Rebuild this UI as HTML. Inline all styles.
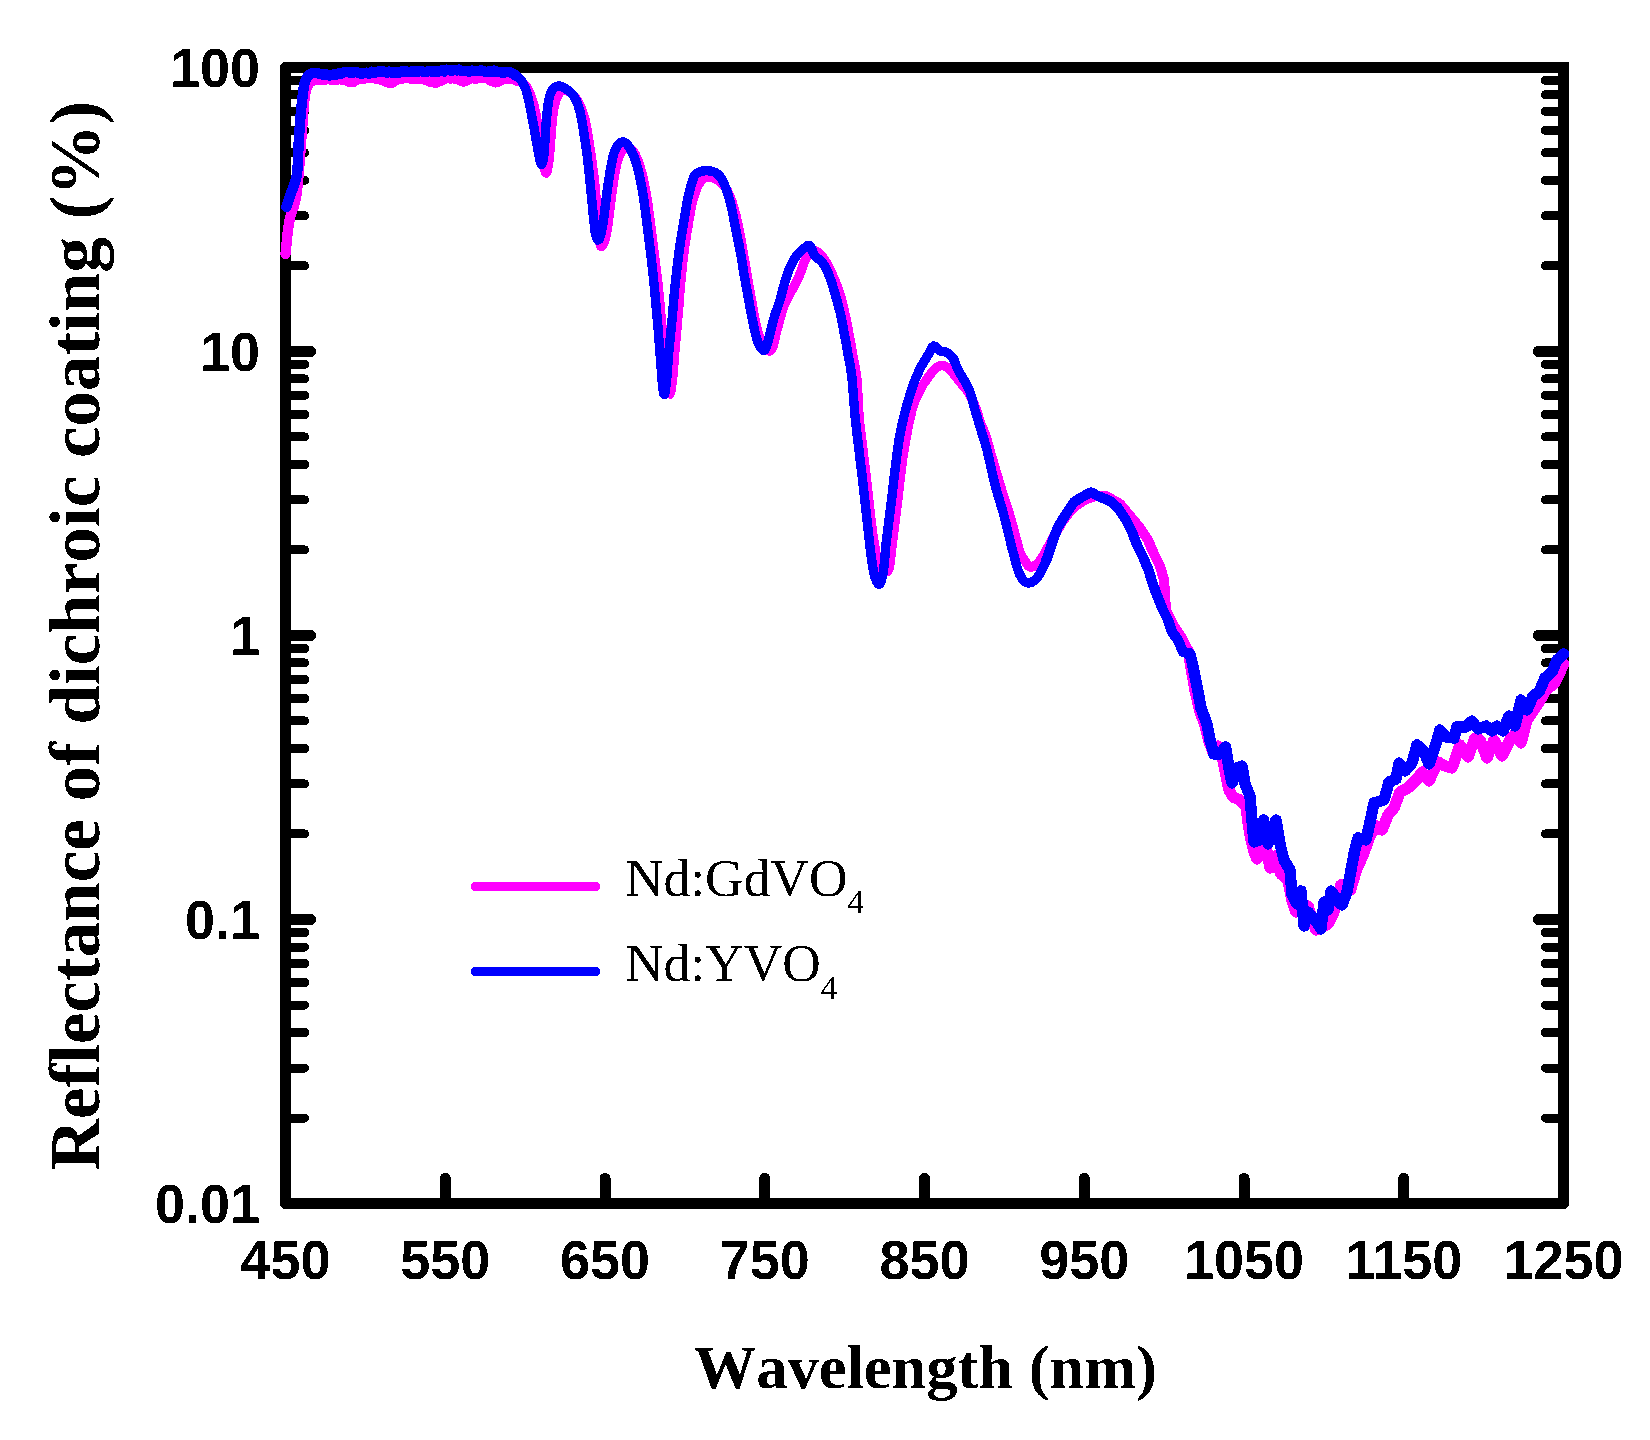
<!DOCTYPE html>
<html lang="en">
<head>
<meta charset="utf-8">
<title>Reflectance of dichroic coating</title>
<style>
html,body{margin:0;padding:0;background:#fff;}
body{width:1650px;height:1440px;overflow:hidden;}
svg{display:block;}
.tl{font-family:"Liberation Sans",sans-serif;font-weight:bold;font-size:54px;fill:#000;}
.at{font-family:"Liberation Serif",serif;font-weight:bold;fill:#000;font-kerning:none;font-variant-ligatures:none;}
.lg{font-family:"Liberation Serif",serif;font-weight:normal;fill:#000;font-kerning:none;}
</style>
</head>
<body>
<svg width="1650" height="1440" viewBox="0 0 1650 1440">
<rect x="0" y="0" width="1650" height="1440" fill="#ffffff"/>
<defs>
<filter id="crisp" x="-5%" y="-5%" width="110%" height="110%" color-interpolation-filters="sRGB">
<feComponentTransfer><feFuncA type="discrete" tableValues="0 1"/></feComponentTransfer>
</filter>
</defs>
<g id="ticks" stroke="#000" stroke-linecap="round" fill="none" shape-rendering="crispEdges">
<line x1="285.5" y1="265.8" x2="304.7" y2="265.8" stroke-width="9"/>
<line x1="1563.5" y1="265.8" x2="1545.3" y2="265.8" stroke-width="9"/>
<line x1="285.5" y1="215.8" x2="304.7" y2="215.8" stroke-width="9"/>
<line x1="1563.5" y1="215.8" x2="1545.3" y2="215.8" stroke-width="9"/>
<line x1="285.5" y1="180.3" x2="304.7" y2="180.3" stroke-width="9"/>
<line x1="1563.5" y1="180.3" x2="1545.3" y2="180.3" stroke-width="9"/>
<line x1="285.5" y1="152.8" x2="304.7" y2="152.8" stroke-width="9"/>
<line x1="1563.5" y1="152.8" x2="1545.3" y2="152.8" stroke-width="9"/>
<line x1="285.5" y1="130.3" x2="304.7" y2="130.3" stroke-width="9"/>
<line x1="1563.5" y1="130.3" x2="1545.3" y2="130.3" stroke-width="9"/>
<line x1="285.5" y1="111.3" x2="304.7" y2="111.3" stroke-width="9"/>
<line x1="1563.5" y1="111.3" x2="1545.3" y2="111.3" stroke-width="9"/>
<line x1="285.5" y1="94.8" x2="304.7" y2="94.8" stroke-width="9"/>
<line x1="1563.5" y1="94.8" x2="1545.3" y2="94.8" stroke-width="9"/>
<line x1="285.5" y1="80.3" x2="304.7" y2="80.3" stroke-width="9"/>
<line x1="1563.5" y1="80.3" x2="1545.3" y2="80.3" stroke-width="9"/>
<line x1="285.5" y1="351.4" x2="310.6" y2="351.4" stroke-width="11"/>
<line x1="1563.5" y1="351.4" x2="1538.4" y2="351.4" stroke-width="11"/>
<line x1="285.5" y1="549.9" x2="304.7" y2="549.9" stroke-width="9"/>
<line x1="1563.5" y1="549.9" x2="1545.3" y2="549.9" stroke-width="9"/>
<line x1="285.5" y1="499.9" x2="304.7" y2="499.9" stroke-width="9"/>
<line x1="1563.5" y1="499.9" x2="1545.3" y2="499.9" stroke-width="9"/>
<line x1="285.5" y1="464.4" x2="304.7" y2="464.4" stroke-width="9"/>
<line x1="1563.5" y1="464.4" x2="1545.3" y2="464.4" stroke-width="9"/>
<line x1="285.5" y1="436.9" x2="304.7" y2="436.9" stroke-width="9"/>
<line x1="1563.5" y1="436.9" x2="1545.3" y2="436.9" stroke-width="9"/>
<line x1="285.5" y1="414.4" x2="304.7" y2="414.4" stroke-width="9"/>
<line x1="1563.5" y1="414.4" x2="1545.3" y2="414.4" stroke-width="9"/>
<line x1="285.5" y1="395.3" x2="304.7" y2="395.3" stroke-width="9"/>
<line x1="1563.5" y1="395.3" x2="1545.3" y2="395.3" stroke-width="9"/>
<line x1="285.5" y1="378.9" x2="304.7" y2="378.9" stroke-width="9"/>
<line x1="1563.5" y1="378.9" x2="1545.3" y2="378.9" stroke-width="9"/>
<line x1="285.5" y1="364.3" x2="304.7" y2="364.3" stroke-width="9"/>
<line x1="1563.5" y1="364.3" x2="1545.3" y2="364.3" stroke-width="9"/>
<line x1="285.5" y1="635.4" x2="310.6" y2="635.4" stroke-width="11"/>
<line x1="1563.5" y1="635.4" x2="1538.4" y2="635.4" stroke-width="11"/>
<line x1="285.5" y1="833.9" x2="304.7" y2="833.9" stroke-width="9"/>
<line x1="1563.5" y1="833.9" x2="1545.3" y2="833.9" stroke-width="9"/>
<line x1="285.5" y1="783.9" x2="304.7" y2="783.9" stroke-width="9"/>
<line x1="1563.5" y1="783.9" x2="1545.3" y2="783.9" stroke-width="9"/>
<line x1="285.5" y1="748.4" x2="304.7" y2="748.4" stroke-width="9"/>
<line x1="1563.5" y1="748.4" x2="1545.3" y2="748.4" stroke-width="9"/>
<line x1="285.5" y1="720.9" x2="304.7" y2="720.9" stroke-width="9"/>
<line x1="1563.5" y1="720.9" x2="1545.3" y2="720.9" stroke-width="9"/>
<line x1="285.5" y1="698.4" x2="304.7" y2="698.4" stroke-width="9"/>
<line x1="1563.5" y1="698.4" x2="1545.3" y2="698.4" stroke-width="9"/>
<line x1="285.5" y1="679.4" x2="304.7" y2="679.4" stroke-width="9"/>
<line x1="1563.5" y1="679.4" x2="1545.3" y2="679.4" stroke-width="9"/>
<line x1="285.5" y1="662.9" x2="304.7" y2="662.9" stroke-width="9"/>
<line x1="1563.5" y1="662.9" x2="1545.3" y2="662.9" stroke-width="9"/>
<line x1="285.5" y1="648.4" x2="304.7" y2="648.4" stroke-width="9"/>
<line x1="1563.5" y1="648.4" x2="1545.3" y2="648.4" stroke-width="9"/>
<line x1="285.5" y1="919.5" x2="310.6" y2="919.5" stroke-width="11"/>
<line x1="1563.5" y1="919.5" x2="1538.4" y2="919.5" stroke-width="11"/>
<line x1="285.5" y1="1118.0" x2="304.7" y2="1118.0" stroke-width="9"/>
<line x1="1563.5" y1="1118.0" x2="1545.3" y2="1118.0" stroke-width="9"/>
<line x1="285.5" y1="1068.0" x2="304.7" y2="1068.0" stroke-width="9"/>
<line x1="1563.5" y1="1068.0" x2="1545.3" y2="1068.0" stroke-width="9"/>
<line x1="285.5" y1="1032.5" x2="304.7" y2="1032.5" stroke-width="9"/>
<line x1="1563.5" y1="1032.5" x2="1545.3" y2="1032.5" stroke-width="9"/>
<line x1="285.5" y1="1005.0" x2="304.7" y2="1005.0" stroke-width="9"/>
<line x1="1563.5" y1="1005.0" x2="1545.3" y2="1005.0" stroke-width="9"/>
<line x1="285.5" y1="982.5" x2="304.7" y2="982.5" stroke-width="9"/>
<line x1="1563.5" y1="982.5" x2="1545.3" y2="982.5" stroke-width="9"/>
<line x1="285.5" y1="963.4" x2="304.7" y2="963.4" stroke-width="9"/>
<line x1="1563.5" y1="963.4" x2="1545.3" y2="963.4" stroke-width="9"/>
<line x1="285.5" y1="947.0" x2="304.7" y2="947.0" stroke-width="9"/>
<line x1="1563.5" y1="947.0" x2="1545.3" y2="947.0" stroke-width="9"/>
<line x1="285.5" y1="932.4" x2="304.7" y2="932.4" stroke-width="9"/>
<line x1="1563.5" y1="932.4" x2="1545.3" y2="932.4" stroke-width="9"/>
<line x1="445.2" y1="1203.5" x2="445.2" y2="1178.4" stroke-width="11"/>
<line x1="605.0" y1="1203.5" x2="605.0" y2="1178.4" stroke-width="11"/>
<line x1="764.8" y1="1203.5" x2="764.8" y2="1178.4" stroke-width="11"/>
<line x1="924.5" y1="1203.5" x2="924.5" y2="1178.4" stroke-width="11"/>
<line x1="1084.2" y1="1203.5" x2="1084.2" y2="1178.4" stroke-width="11"/>
<line x1="1244.0" y1="1203.5" x2="1244.0" y2="1178.4" stroke-width="11"/>
<line x1="1403.8" y1="1203.5" x2="1403.8" y2="1178.4" stroke-width="11"/>
</g>
<path id="frame" d="M1563.5 67.3 L285.5 67.3 L285.5 1203.5 L1563.5 1203.5 L1563.5 67.3" fill="none" stroke="#000" stroke-width="11" stroke-linejoin="round" stroke-linecap="square" shape-rendering="crispEdges"/>
<g id="curves" fill="none" stroke-width="10" stroke-linejoin="round" stroke-linecap="round" shape-rendering="crispEdges">
<path d="M285.6 254.0 L286.2 247.4 L287.1 238.1 L288.0 230.0 L288.8 224.5 L289.6 220.1 L290.5 216.0 L291.8 211.9 L293.2 208.1 L294.5 204.0 L295.5 199.7 L296.3 195.2 L297.0 190.0 L297.7 183.8 L298.4 176.9 L299.0 170.0 L299.5 163.3 L300.0 156.7 L300.5 150.0 L301.0 143.7 L301.4 137.4 L302.0 130.0 L302.7 120.1 L303.5 109.2 L304.4 100.0 L305.3 93.8 L306.3 89.4 L307.5 86.0 L308.8 83.5 L310.3 82.0 L312.0 81.0 L313.8 80.4 L315.8 80.2 L318.0 80.0 L320.5 79.5 L323.0 79.3 L325.5 79.6 L328.0 79.1 L330.5 79.6 L333.0 80.0 L335.5 79.4 L338.0 79.4 L340.5 79.2 L343.0 79.8 L345.5 79.8 L348.0 81.4 L350.5 81.8 L353.0 82.3 L355.5 80.5 L358.0 78.4 L360.5 79.2 L363.0 78.9 L365.5 78.3 L368.0 78.2 L370.5 77.6 L373.0 77.6 L375.5 78.6 L378.0 78.4 L380.5 79.5 L383.0 80.5 L385.5 81.2 L388.0 82.5 L390.5 82.8 L393.0 82.5 L395.5 80.3 L398.0 79.2 L400.5 78.6 L403.0 78.5 L405.5 78.0 L408.0 77.7 L410.5 78.7 L413.0 78.8 L415.5 78.7 L418.0 78.7 L420.5 78.5 L423.0 78.9 L425.5 79.7 L428.0 80.2 L430.5 82.0 L433.0 82.0 L435.5 82.9 L438.0 81.6 L440.5 81.1 L443.0 79.9 L445.5 78.0 L448.0 77.9 L450.5 78.6 L453.0 77.9 L455.5 78.9 L458.0 79.3 L460.5 80.4 L463.0 81.5 L465.5 81.1 L468.0 79.4 L470.5 78.3 L473.0 78.1 L475.5 78.7 L478.0 78.2 L480.5 77.2 L483.0 77.5 L485.5 77.6 L488.0 78.5 L490.5 80.7 L493.0 81.1 L495.5 82.4 L498.0 81.9 L500.5 79.9 L503.0 79.3 L505.5 78.2 L508.0 78.8 L510.5 78.3 L514.8 79.7 L517.5 80.8" stroke="#ff00ff" stroke-width="10.4"/>
<path d="M514.8 79.7 L517.5 80.8 L520.0 82.0 L522.2 83.0 L524.1 84.2 L526.0 86.0 L527.8 88.7 L529.4 92.1 L531.0 96.0 L532.4 100.3 L533.8 105.0 L535.0 110.0 L536.1 115.0 L537.0 120.3 L538.0 126.0 L539.0 132.4 L540.0 139.2 L541.0 146.0 L542.0 153.1 L543.0 160.3 L544.0 166.0 L544.8 170.0 L545.6 172.6 L546.4 173.0 L547.3 170.6 L548.2 165.9 L549.0 160.0 L549.7 152.7 L550.4 144.3 L551.0 136.0 L551.6 128.2 L552.3 120.7 L553.0 114.0 L553.9 108.5 L554.9 103.9 L556.0 100.0 L557.2 96.7 L558.6 94.0 L560.0 92.0 L561.6 90.7 L563.2 90.1 L565.0 90.0 L566.9 90.5 L569.0 91.5 L571.0 93.0 L573.0 94.9 L575.1 97.3 L577.0 100.0 L578.8 103.0 L580.4 106.3 L582.0 110.0 L583.4 114.2 L584.8 118.9 L586.0 124.0 L587.1 129.6 L588.0 135.7 L589.0 142.0 L590.0 148.4 L591.0 155.0 L592.0 162.0 L593.0 169.7 L594.1 177.9 L595.0 186.0 L595.7 194.0 L596.4 202.0 L597.0 210.0 L597.7 218.4 L598.3 226.8 L599.0 234.0 L599.6 239.8 L600.2 244.2 L601.0 246.6 L602.2 246.2 L603.7 243.6 L605.0 240.0 L606.1 235.7 L607.0 230.3 L608.0 224.0 L609.0 216.7 L609.9 208.6 L611.0 200.0 L612.2 190.6 L613.6 180.7 L615.0 172.0 L616.5 164.9 L618.1 158.8 L620.0 154.0 L622.1 150.3 L624.5 147.9 L627.0 147.0 L629.7 148.0 L632.4 150.5 L635.0 154.0 L637.2 158.4 L639.1 163.9 L641.0 170.0 L642.8 176.7 L644.4 184.0 L646.0 192.0 L647.4 200.7 L648.7 210.1 L650.0 220.0 L651.3 230.4 L652.7 241.2 L654.0 252.0 L655.4 262.7 L656.7 273.3 L658.0 284.0 L659.1 294.8 L660.1 305.6 L661.0 316.0 L661.9 325.7 L662.8 335.0 L663.6 344.0 L664.4 353.1 L665.2 362.0 L666.0 370.0 L666.7 377.0 L667.3 383.2 L668.0 388.0 L668.6 391.6 L669.3 393.9 L670.0 394.0 L670.8 391.4 L671.6 386.6 L672.5 380.0 L673.3 371.3 L674.1 360.9 L675.0 350.0 L676.0 338.9 L677.0 327.3 L678.0 316.0 L678.9 305.2 L679.7 294.6 L680.6 284.0 L681.7 273.1 L682.8 262.2 L684.0 252.0 L685.3 242.7 L686.6 234.1 L688.0 226.0 L689.3 218.1 L690.6 210.7 L692.0 204.0 L693.6 197.9 L695.3 192.5 L697.0 188.0 L698.6 184.6 L700.2 182.0 L702.0 180.0 L704.1 178.4 L706.4 177.3 L709.0 177.0 L712.2 177.6 L715.7 179.0 L719.0 181.0 L721.9 183.3 L724.5 186.1 L727.0 190.0 L729.5 195.1 L731.8 201.2 L734.0 208.0 L736.0 215.6 L737.8 223.9 L739.5 232.0 L740.9 239.4 L742.2 246.6 L743.5 254.0 L744.8 261.9 L746.2 270.1 L747.5 278.0 L748.8 285.5 L750.2 292.7 L751.5 300.0 L752.8 307.5 L754.1 315.0 L755.5 322.0 L757.1 328.6 L758.8 334.8 L760.5 340.0 L762.3 344.2 L764.1 347.4 L766.0 349.5 L768.0 350.8 L770.1 350.9 L772.0 349.0 L773.7 344.2 L775.2 337.4 L777.0 330.0 L779.1 322.1 L781.5 313.6 L784.0 306.0 L786.6 300.1 L789.3 295.0 L792.0 290.0 L794.7 284.7 L797.5 279.3 L800.0 274.0 L802.1 268.3 L804.1 262.6 L806.0 258.0 L808.0 255.0 L810.0 253.2 L812.0 252.0 L813.9 251.2 L815.9 251.0 L818.0 252.0 L820.6 254.4 L823.3 258.0 L826.0 262.0 L828.4 266.2 L830.7 270.9 L833.0 276.0 L835.4 281.6 L837.8 287.7 L840.0 294.0 L841.9 300.5 L843.5 307.3 L845.0 314.0 L846.4 320.6 L847.7 327.2 L849.0 334.0 L850.3 341.1 L851.7 348.4 L853.0 356.0 L854.4 363.4 L855.8 371.0 L857.0 380.0 L857.7 391.2 L858.3 403.7 L859.0 416.0 L860.2 427.5 L861.6 438.7 L863.0 450.0 L864.3 461.3 L865.7 472.5 L867.0 484.0 L868.3 496.1 L869.7 508.5 L871.0 520.0 L872.3 530.4 L873.7 539.9 L875.0 548.0 L876.3 554.6 L877.6 559.8 L879.0 564.0 L880.6 567.3 L882.3 569.7 L884.0 571.0 L885.7 571.8 L887.5 571.6 L889.0 569.0 L890.1 562.9 L891.1 554.5 L892.0 546.0 L893.0 538.1 L894.0 530.0 L895.0 522.0 L896.0 514.1 L897.0 506.1 L898.0 498.0 L899.0 489.6 L899.9 480.9 L901.0 472.0 L902.1 463.0 L903.4 453.9 L905.0 444.0 L907.1 432.6 L909.5 420.5 L912.0 410.0 L914.6 402.0 L917.4 395.5 L920.0 390.0 L922.4 385.6 L924.8 382.1 L927.0 379.0 L929.1 376.0 L931.1 373.3 L933.0 371.0 L934.8 369.1 L936.4 367.6 L938.0 366.5 L939.4 365.8 L940.7 365.6 L942.0 365.5 L943.3 365.5 L944.5 365.8 L946.0 366.5 L947.8 367.8 L949.8 369.7 L952.0 372.0 L954.5 375.0 L957.3 378.5 L960.0 382.0 L962.7 385.2 L965.4 388.4 L968.0 392.0 L970.4 396.2 L972.8 400.9 L975.0 406.0 L977.1 411.9 L979.1 418.3 L981.0 424.0 L982.7 428.2 L984.4 431.8 L986.0 436.0 L987.6 441.4 L989.2 447.5 L991.0 454.0 L993.1 461.1 L995.3 468.7 L997.5 476.0 L999.5 482.8 L1001.5 489.4 L1003.5 496.0 L1005.7 502.7 L1007.9 509.3 L1010.0 516.0 L1011.9 522.8 L1013.8 529.6 L1015.5 536.0 L1017.1 541.9 L1018.5 547.3 L1020.0 552.0 L1021.6 555.6 L1023.3 558.5 L1025.0 561.0 L1026.6 563.6 L1028.2 565.8 L1030.0 567.0 L1032.2 566.9 L1034.7 565.7 L1037.0 564.0 L1039.1 561.8 L1041.0 559.0 L1043.0 556.0 L1045.2 552.4 L1047.4 548.7 L1049.0 546.0" stroke="#ff00ff" stroke-width="9.4"/>
<path d="M1047.4 548.7 L1049.0 546.0 L1055.0 534.0 L1062.0 522.0 L1070.0 511.0 L1078.0 504.0 L1086.0 499.0 L1096.0 496.0 L1106.0 496.0 L1120.0 504.0 L1130.0 516.0 L1140.0 528.0 L1148.0 540.0 L1154.0 554.0 L1160.0 566.0 L1164.0 580.0 L1165.0 596.0 L1166.0 610.0 L1174.0 626.0 L1182.0 638.0 L1188.0 650.0 L1191.5 670.0" stroke="#ff00ff" stroke-width="10.2"/>
<path d="M1188.0 650.0 L1191.5 670.0 L1195.0 690.0 L1199.5 710.0 L1204.5 724.0 L1208.5 740.0 L1213.0 752.0 L1218.0 746.0 L1223.0 760.0 L1229.0 790.0 L1233.0 797.0 L1240.0 800.0 L1246.0 806.0 L1248.0 822.0 L1251.0 840.0 L1254.0 852.0 L1257.0 859.0 L1263.0 850.0 L1265.0 840.0 L1270.0 868.0 L1275.0 856.0 L1281.0 874.0 L1288.0 880.0 L1292.0 900.0 L1296.0 912.0 L1308.0 906.0 L1316.0 930.0 L1328.0 924.0 L1334.0 912.0 L1341.0 885.0 L1350.5 890.0 L1356.5 870.0 L1363.5 854.0 L1370.0 836.0 L1376.0 826.0 L1382.0 830.0 L1388.0 815.0 L1394.0 808.0 L1400.0 792.0 L1408.0 788.0 L1418.0 778.0 L1422.0 772.0 L1429.0 781.0 L1438.0 762.0 L1445.0 766.0 L1452.0 768.0 L1460.0 745.0 L1468.0 757.0 L1475.0 738.0 L1480.0 740.0 L1487.0 758.0 L1494.0 740.0 L1502.0 756.0 L1510.0 740.0 L1515.0 734.0 L1521.0 743.0 L1527.0 720.0 L1538.0 704.0 L1546.0 690.0 L1554.0 684.0 L1560.0 672.0 L1563.6 664.0" stroke="#ff00ff" stroke-width="11.4"/>
<path d="M286.4 207.0 L287.3 204.1 L288.7 200.0 L290.0 196.0 L291.2 192.7 L292.4 189.4 L293.6 186.0 L294.8 182.3 L296.1 178.4 L297.0 174.0 L297.5 169.1 L297.8 163.8 L298.0 158.0 L298.3 151.6 L298.6 144.8 L299.0 138.0 L299.4 131.3 L299.9 124.7 L300.4 118.0 L301.0 111.1 L301.7 104.2 L302.4 98.0 L303.0 92.7 L303.6 88.0 L304.4 84.0 L305.4 80.7 L306.6 78.1 L308.0 76.0 L309.6 74.5 L311.4 73.5 L313.5 73.0 L316.1 73.0 L319.1 73.7 L321.6 73.7 L324.1 75.1 L326.6 74.4 L329.1 75.5 L331.6 75.1 L334.1 74.1 L336.6 74.6 L339.1 73.2 L341.6 73.6 L344.1 72.4 L346.6 72.0 L349.1 72.4 L351.6 73.2 L354.1 71.8 L356.6 72.1 L359.1 73.1 L361.6 73.8 L364.1 73.1 L366.6 72.7 L369.1 73.7 L371.6 71.7 L374.1 73.0 L376.6 71.8 L379.1 71.3 L381.6 71.3 L384.1 71.7 L386.6 72.7 L389.1 71.6 L391.6 72.5 L394.1 72.7 L396.6 72.2 L399.1 72.6 L401.6 71.5 L404.1 71.4 L406.6 71.5 L409.1 72.3 L411.6 71.6 L414.1 71.2 L416.6 71.7 L419.1 71.4 L421.6 71.1 L424.1 72.1 L426.6 71.9 L429.1 71.0 L431.6 71.6 L434.1 71.3 L436.6 71.8 L439.1 71.3 L441.6 70.3 L444.1 71.5 L446.6 69.7 L449.1 70.3 L451.6 70.9 L454.1 69.7 L456.6 70.4 L459.1 69.6 L461.6 70.9 L464.1 71.2 L466.6 71.0 L469.1 71.7 L471.6 70.6 L474.1 71.2 L476.6 70.8 L479.1 70.7 L481.6 70.5 L484.1 71.5 L486.6 72.1 L489.1 71.4 L491.6 71.8 L494.1 70.6 L496.6 71.8 L499.1 71.8 L501.6 72.6 L504.1 72.5 L506.6 71.8 L510.0 72.4 L512.0 73.1 L513.4 73.9 L515.0 75.0 L517.0 76.3" stroke="#0000ff" stroke-width="10.4"/>
<path d="M515.0 75.0 L517.0 76.3 L519.0 77.9 L521.0 80.0 L522.8 82.9 L524.5 86.3 L526.0 90.0 L527.1 93.7 L528.1 97.6 L529.0 102.0 L530.0 107.0 L531.1 112.4 L532.2 118.0 L533.3 123.8 L534.4 129.8 L535.5 136.0 L536.7 142.9 L537.9 150.1 L539.0 156.0 L539.9 160.4 L540.8 163.4 L541.6 164.4 L542.4 162.8 L543.3 159.2 L544.0 154.0 L544.6 146.9 L545.1 138.4 L545.6 130.0 L546.2 122.2 L546.9 114.6 L547.6 108.0 L548.3 102.8 L549.1 98.6 L550.0 95.0 L551.2 92.0 L552.5 89.7 L554.0 88.0 L555.7 86.8 L557.6 86.1 L559.6 86.0 L561.7 86.6 L563.9 87.7 L566.0 89.0 L568.1 90.4 L570.1 92.0 L572.0 94.0 L573.8 96.2 L575.4 98.8 L577.0 102.0 L578.4 106.1 L579.8 110.8 L581.0 116.0 L582.1 121.6 L583.0 127.7 L584.0 134.0 L585.0 140.4 L586.0 147.0 L587.0 154.0 L587.9 161.7 L588.8 169.9 L589.6 178.0 L590.4 186.0 L591.2 194.0 L592.0 202.0 L592.8 210.5 L593.7 219.0 L594.4 226.0 L594.9 230.6 L595.4 233.7 L596.0 236.0 L596.9 238.4 L597.9 240.1 L599.0 239.6 L600.3 236.1 L601.7 230.5 L603.0 224.0 L604.0 216.8 L605.0 208.6 L606.0 200.0 L607.2 190.7 L608.6 181.0 L610.0 172.0 L611.5 163.7 L613.1 156.1 L615.0 150.0 L617.4 145.6 L620.2 142.7 L623.0 141.6 L625.7 142.9 L628.5 146.0 L631.0 150.0 L633.2 154.5 L635.1 159.9 L637.0 166.0 L638.8 172.7 L640.4 180.0 L642.0 188.0 L643.4 196.7 L644.7 206.1 L646.0 216.0 L647.3 226.4 L648.7 237.2 L650.0 248.0 L651.3 258.7 L652.5 269.3 L653.6 280.0 L654.7 290.8 L655.7 301.6 L656.6 312.0 L657.5 321.7 L658.3 331.0 L659.0 340.0 L659.7 349.0 L660.4 357.9 L661.0 366.0 L661.6 373.5 L662.1 380.4 L662.6 386.0 L663.2 390.5 L663.8 393.7 L664.4 394.4 L665.1 391.9 L665.8 386.8 L666.6 380.0 L667.3 371.3 L668.1 360.9 L669.0 350.0 L670.1 338.9 L671.3 327.3 L672.4 316.0 L673.3 305.2 L674.2 294.6 L675.2 284.0 L676.4 273.2 L677.7 262.4 L679.0 252.0 L680.4 242.2 L681.9 232.9 L683.4 224.0 L684.8 215.4 L686.2 207.3 L687.5 200.0 L688.9 193.8 L690.2 188.4 L691.5 184.0 L692.5 180.6 L693.4 178.1 L694.5 176.0 L695.7 174.3 L697.1 173.0 L699.0 172.0 L701.5 171.2 L704.5 170.8 L707.5 170.7 L710.4 171.0 L713.3 171.7 L715.8 172.8 L717.8 174.2 L719.5 175.9 L721.0 178.0 L722.4 180.3 L723.7 182.9 L725.0 186.0 L726.4 189.7 L727.7 193.9 L729.0 198.0 L730.1 201.8 L731.0 205.6 L732.0 210.0 L733.1 215.4 L734.2 221.5 L735.5 228.0 L736.9 235.0 L738.5 242.4 L740.0 250.0 L741.4 257.9 L742.7 266.1 L744.0 274.0 L745.3 281.5 L746.7 288.7 L748.0 296.0 L749.3 303.4 L750.6 310.8 L752.0 318.0 L753.5 325.2 L755.0 332.1 L756.5 338.0 L758.0 342.4 L759.5 345.7 L761.0 348.0 L762.4 349.7 L763.6 350.5 L765.0 349.6 L766.5 346.4 L768.0 341.4 L769.5 336.0 L770.9 330.3 L772.4 324.2 L774.0 318.0 L775.9 312.1 L778.0 306.1 L780.0 300.0 L781.9 293.3 L783.6 286.4 L785.5 280.0 L787.4 274.1 L789.4 268.7 L791.5 264.0 L793.6 260.1 L795.9 256.8 L798.0 254.0 L800.1 251.7 L802.0 250.0 L804.0 248.5 L805.9 246.8 L807.8 245.5 L809.6 245.6 L811.4 248.2 L813.1 252.4 L815.0 256.0 L817.2 258.1 L819.6 259.7 L822.0 262.0 L824.2 265.3 L826.4 269.3 L828.5 274.0 L830.6 279.5 L832.6 285.6 L834.5 292.0 L836.4 298.5 L838.3 305.3 L840.0 312.0 L841.4 318.6 L842.7 325.2 L844.0 332.0 L845.3 339.1 L846.7 346.4 L848.0 354.0 L849.4 361.3 L850.7 368.9 L852.0 378.0 L853.0 389.8 L854.0 403.1 L855.0 416.0 L856.3 427.6 L857.6 438.8 L859.0 450.0 L860.3 461.3 L861.7 472.5 L863.0 484.0 L864.4 496.1 L865.7 508.4 L867.0 520.0 L868.2 530.7 L869.3 540.8 L870.4 550.0 L871.5 558.4 L872.5 565.9 L873.6 572.0 L874.7 576.5 L875.9 579.7 L877.0 582.0 L878.0 583.7 L879.0 584.5 L880.0 583.6 L881.2 580.7 L882.5 576.0 L883.6 570.0 L884.5 562.2 L885.2 553.0 L886.0 544.0 L887.0 535.9 L888.0 527.9 L889.0 520.0 L890.0 512.1 L891.0 504.1 L892.0 496.0 L893.0 487.6 L893.9 479.0 L895.0 470.0 L896.2 460.1 L897.6 449.7 L899.0 440.0 L900.6 431.3 L902.3 423.3 L904.0 416.0 L905.6 409.6 L907.3 403.8 L909.0 398.0 L910.9 391.9 L912.9 385.8 L915.0 380.0 L917.3 374.6 L919.7 369.5 L922.0 365.0 L924.1 361.3 L926.1 358.1 L928.0 355.0 L929.9 351.4 L931.7 347.9 L933.6 346.0 L935.7 346.8 L937.9 349.1 L940.0 351.0 L942.0 351.4 L943.9 351.4 L946.0 352.0 L948.3 353.4 L950.8 355.4 L953.0 358.0 L954.8 361.6 L956.3 365.9 L958.0 370.0 L959.9 373.4 L962.0 376.6 L964.0 380.0 L966.0 383.6 L968.1 387.5 L970.0 392.0 L971.7 397.5 L973.3 403.6 L975.0 410.0 L976.9 416.5 L979.0 423.3 L981.0 430.0 L983.0 436.6 L985.1 443.2 L987.0 450.0 L988.7 457.3 L990.4 464.7 L992.0 472.0 L993.6 478.8 L995.3 485.4 L997.0 492.0 L999.0 498.7 L1001.0 505.3 L1003.0 512.0 L1004.7 518.7 L1006.4 525.3 L1008.0 532.0 L1009.7 538.7 L1011.3 545.5 L1013.0 552.0 L1014.7 558.4 L1016.3 564.7 L1018.0 570.0 L1019.6 574.2 L1021.3 577.5 L1023.0 580.0 L1024.9 581.8 L1026.9 582.8 L1029.0 583.0 L1031.3 582.4 L1033.7 581.0 L1036.0 579.0 L1038.1 576.6 L1040.0 573.6 L1042.0 570.0 L1044.2 565.2 L1046.4 559.8 L1048.0 556.0" stroke="#0000ff" stroke-width="9.4"/>
<path d="M1046.4 559.8 L1048.0 556.0 L1053.0 540.0 L1058.0 527.0 L1066.0 514.0 L1074.0 502.0 L1082.0 497.0 L1091.0 492.4 L1100.0 497.0 L1110.0 501.0 L1118.0 508.0 L1126.0 520.0 L1132.0 532.0 L1137.5 546.0 L1143.5 558.0 L1148.5 570.0 L1153.5 586.0 L1158.0 598.0 L1163.0 610.0 L1168.0 620.0 L1172.0 632.0 L1178.0 640.0 L1183.0 652.0 L1190.0 654.0" stroke="#0000ff" stroke-width="10.2"/>
<path d="M1190.0 654.0 L1193.0 666.0 L1197.0 686.0 L1201.0 708.0 L1207.0 724.0 L1210.0 740.0 L1214.0 754.0 L1220.0 754.0 L1225.6 747.0 L1229.0 768.0 L1232.0 783.0 L1237.0 768.0 L1242.0 766.0 L1245.0 784.0 L1250.0 796.0 L1252.0 820.0 L1254.0 842.0 L1259.0 840.0 L1263.6 820.0 L1268.0 844.0 L1272.0 830.0 L1276.0 820.0 L1280.0 844.0 L1284.0 860.0 L1290.0 870.0 L1292.0 894.0 L1297.0 904.0 L1301.0 891.0 L1304.0 926.0 L1308.0 912.0 L1313.0 918.0 L1318.0 924.0 L1321.0 929.0 L1324.0 902.0 L1328.0 910.0 L1331.0 891.0 L1337.0 900.0 L1342.0 905.0 L1347.0 892.0 L1351.0 870.0 L1354.0 854.0 L1358.0 838.0 L1366.0 840.0 L1370.0 822.0 L1374.0 803.0 L1384.0 800.0 L1389.0 782.0 L1396.0 779.0 L1399.0 763.0 L1405.0 771.0 L1412.0 763.0 L1417.0 745.0 L1424.0 752.0 L1429.0 764.0 L1435.0 747.0 L1440.0 730.0 L1446.0 737.0 L1454.0 738.0 L1457.0 727.0 L1466.0 727.0 L1472.0 721.0 L1478.0 729.0 L1486.0 726.0 L1492.0 731.0 L1497.0 726.0 L1503.0 731.0 L1509.0 716.0 L1515.0 726.0 L1521.0 700.0 L1527.0 710.0 L1533.0 696.0 L1539.0 692.0 L1545.0 678.0 L1552.0 672.0 L1557.0 660.0 L1563.6 654.0" stroke="#0000ff" stroke-width="11.4"/>
</g>
<g id="legend" filter="url(#crisp)">
<line x1="475.4" y1="886.45" x2="595.5" y2="886.45" stroke="#ff00ff" stroke-width="9.3" stroke-linecap="round" shape-rendering="crispEdges"/>
<line x1="475.4" y1="971.55" x2="595.5" y2="971.55" stroke="#0000ff" stroke-width="9.3" stroke-linecap="round" shape-rendering="crispEdges"/>
<text class="lg" x="625" y="895.8" font-size="53.4">Nd:GdVO<tspan dy="17.6" font-size="33">4</tspan></text>
<text class="lg" x="625" y="981.1" font-size="53.4">Nd:YVO<tspan dy="17.6" font-size="33">4</tspan></text>
</g>
<g id="ylabels" class="tl" filter="url(#crisp)">
<text transform="translate(260 86.6) scale(1 1.026)" text-anchor="end">100</text>
<text transform="translate(260 370.7) scale(1 1.026)" text-anchor="end">10</text>
<text transform="translate(260 654.7) scale(1 1.026)" text-anchor="end">1</text>
<text transform="translate(260 938.8) scale(1 1.026)" text-anchor="end">0.1</text>
<text transform="translate(260 1222.8) scale(1 1.026)" text-anchor="end">0.01</text>
</g>
<g id="xlabels" class="tl" filter="url(#crisp)">
<text transform="translate(285.5 1279.4) scale(1 1.026)" text-anchor="middle">450</text>
<text transform="translate(445.2 1279.4) scale(1 1.026)" text-anchor="middle">550</text>
<text transform="translate(605.0 1279.4) scale(1 1.026)" text-anchor="middle">650</text>
<text transform="translate(764.8 1279.4) scale(1 1.026)" text-anchor="middle">750</text>
<text transform="translate(924.5 1279.4) scale(1 1.026)" text-anchor="middle">850</text>
<text transform="translate(1084.2 1279.4) scale(1 1.026)" text-anchor="middle">950</text>
<text transform="translate(1244.0 1279.4) scale(1 1.026)" text-anchor="middle">1050</text>
<text transform="translate(1403.8 1279.4) scale(1 1.026)" text-anchor="middle">1150</text>
<text transform="translate(1563.5 1279.4) scale(1 1.026)" text-anchor="middle">1250</text>
</g>
<g id="titles" filter="url(#crisp)">
<text class="at" font-size="62" transform="translate(925.4 1388.4) scale(1.008 1)" text-anchor="middle">Wavelength (nm)</text>
<text class="at" font-size="72" transform="translate(99.2 635.6) rotate(-90) scale(0.987 1)" text-anchor="middle">Reflectance of dichroic coating (%)</text>
</g>
</svg>
</body>
</html>
